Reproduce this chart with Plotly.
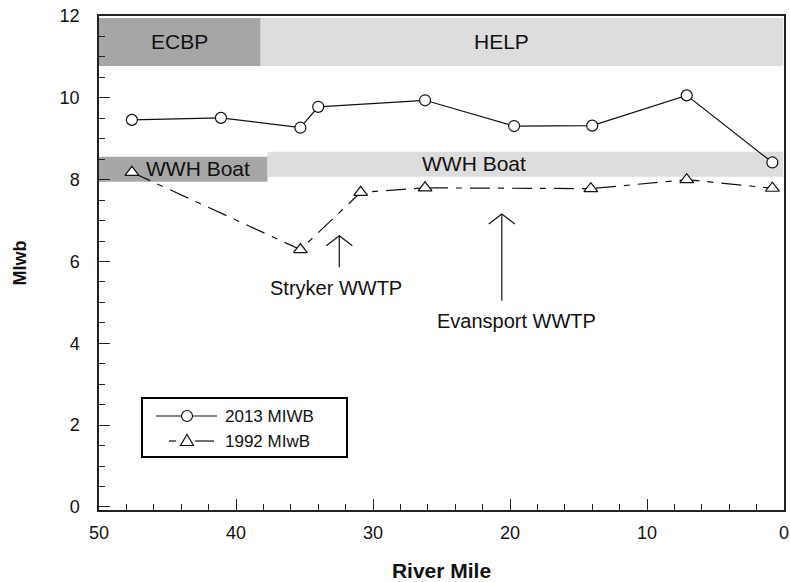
import plotly.graph_objects as go

# ---------------- data ----------------
river_mile_2013 = [47.6, 41.1, 35.3, 34.0, 26.2, 19.7, 14.0, 7.1, 0.85]
miwb_2013 = [9.46, 9.51, 9.27, 9.78, 9.94, 9.31, 9.32, 10.06, 8.42]

river_mile_1992 = [47.6, 35.3, 30.9, 26.2, 14.1, 7.1, 0.85]
miwb_1992 = [8.18, 6.29, 7.69, 7.80, 7.78, 8.00, 7.79]

series_names = ["2013 MIWB", "1992 MIwB"]

band_names = ["ECBP", "HELP", "WWH Boat", "WWH Boat"]
band_mile_from = [50, 38.2, 50, 37.7]
band_mile_to = [38.2, 0.05, 37.7, 0.05]
band_low = [10.78, 10.78, 7.95, 8.07]
band_high = [11.95, 11.95, 8.56, 8.68]
band_label_mile = [44.1, 20.6, 42.8, 22.6]
band_label_value = [11.37, 11.37, 8.27, 8.39]

outfall_names = ["Stryker WWTP", "Evansport WWTP"]
outfall_mile = [32.46, 20.6]
outfall_arrow_tail = [5.86, 5.04]
outfall_arrow_head = [6.63, 7.16]
outfall_label_mile = [32.7, 19.5]
outfall_label_value = [5.34, 4.55]

x_ticks = [50, 40, 30, 20, 10, 0]
y_ticks = [0, 2, 4, 6, 8, 10, 12]

# ---------------- styles / layout ----------------
FONT = "Liberation Sans"
INK = "#111111"
DARK_BAND = "#a6a6a6"
LIGHT_BAND = "#dcdddc"
band_colors = [DARK_BAND, LIGHT_BAND, DARK_BAND, LIGHT_BAND]

W, H = 790, 582
ML, MR, MT, MB = 99, 6, 16, 72


def px_x(px):
    return (px - ML) / (W - ML - MR)


def px_y(py):
    return (H - MB - py) / (H - MT - MB)


DASH_1992 = "20px,8px,6px,8px"
KEY_ROWS = [416, 441]

fig = go.Figure()

fig.add_trace(go.Scatter(
    x=river_mile_2013, y=miwb_2013, name=series_names[0], mode="lines+markers",
    line=dict(color=INK, width=1.2), showlegend=False,
    marker=dict(symbol="circle", size=11, color="white", line=dict(color=INK, width=1.2)),
))
fig.add_trace(go.Scatter(
    x=river_mile_1992, y=miwb_1992, name=series_names[1], mode="lines+markers",
    line=dict(color=INK, width=1.2, dash=DASH_1992), showlegend=False,
    marker=dict(symbol="triangle-up", size=12, color="white", line=dict(color=INK, width=1.2)),
))

shapes = []
annotations = []
for name, x0, x1, y0, y1, col, lx, ly in zip(band_names, band_mile_from, band_mile_to,
                                            band_low, band_high, band_colors,
                                            band_label_mile, band_label_value):
    shapes.append(dict(type="rect", xref="x", yref="y", x0=x0, x1=x1, y0=y0, y1=y1,
                       fillcolor=col, line=dict(width=0), layer="below"))
    annotations.append(dict(x=lx, y=ly, xref="x", yref="y", text=name, showarrow=False,
                            font=dict(family=FONT, size=21, color=INK)))

for name, mx, yt, yh, lx, ly in zip(outfall_names, outfall_mile, outfall_arrow_tail,
                                    outfall_arrow_head, outfall_label_mile, outfall_label_value):
    shapes.append(dict(type="line", xref="x", yref="y", x0=mx, x1=mx, y0=yt, y1=yh,
                       line=dict(color=INK, width=1.2)))
    shapes.append(dict(type="path", xref="x", yref="y", xsizemode="pixel", ysizemode="pixel",
                       xanchor=mx, yanchor=yh, path="M-13,-10 L0,0 L13,-10",
                       line=dict(color=INK, width=1.2)))
    annotations.append(dict(x=lx, y=ly, xref="x", yref="y", text=name, showarrow=False,
                            font=dict(family=FONT, size=20, color=INK)))

# ---------------- legend (drawn as a framed key) ----------------
shapes.append(dict(type="rect", xref="paper", yref="paper",
                   x0=px_x(142), x1=px_x(347), y0=px_y(457), y1=px_y(398),
                   line=dict(color="black", width=2), fillcolor="rgba(0,0,0,0)"))
# entry 1: solid line with open circle
shapes.append(dict(type="line", xref="paper", yref="paper",
                   x0=px_x(156), x1=px_x(217), y0=px_y(KEY_ROWS[0]), y1=px_y(KEY_ROWS[0]),
                   line=dict(color=INK, width=1.2)))
shapes.append(dict(type="circle", xref="paper", yref="paper", xsizemode="pixel",
                   ysizemode="pixel", xanchor=px_x(187), yanchor=px_y(KEY_ROWS[0]),
                   x0=-5.5, x1=5.5, y0=-5.5, y1=5.5, fillcolor="white",
                   line=dict(color=INK, width=1.2)))
# entry 2: dashed line with open triangle
shapes.append(dict(type="line", xref="paper", yref="paper",
                   x0=px_x(169), x1=px_x(176), y0=px_y(KEY_ROWS[1]), y1=px_y(KEY_ROWS[1]),
                   line=dict(color=INK, width=1.2)))
shapes.append(dict(type="line", xref="paper", yref="paper",
                   x0=px_x(195), x1=px_x(214), y0=px_y(KEY_ROWS[1]), y1=px_y(KEY_ROWS[1]),
                   line=dict(color=INK, width=1.2)))
shapes.append(dict(type="path", xref="paper", yref="paper", xsizemode="pixel",
                   ysizemode="pixel", xanchor=px_x(187), yanchor=px_y(KEY_ROWS[1]),
                   path="M-6.5,-4.5 L6.5,-4.5 L0,6.5 Z", fillcolor="white",
                   line=dict(color=INK, width=1.2)))
for name, py in zip(series_names, KEY_ROWS):
    annotations.append(dict(x=px_x(223), y=px_y(py), xref="paper", yref="paper",
                            xanchor="left", yanchor="middle", text=name, showarrow=False,
                            font=dict(family=FONT, size=17, color=INK)))

fig.update_layout(
    width=W, height=H,
    margin=dict(l=ML, r=MR, t=MT, b=MB),
    paper_bgcolor="white", plot_bgcolor="white",
    font=dict(family=FONT, size=18, color=INK),
    shapes=shapes, annotations=annotations,
    showlegend=False,
)
fig.update_xaxes(
    range=[50, 0], tickvals=x_ticks, ticktext=[str(v) for v in x_ticks],
    showgrid=False, zeroline=False, showline=True, linecolor="#222222", linewidth=1.5,
    mirror=True, ticks="inside", ticklen=11, tickwidth=1.2, tickcolor="#222222",
    minor=dict(dtick=2, tick0=0, ticks="inside", ticklen=6, tickwidth=1, tickcolor="#222222"),
    title=dict(text="<b>River Mile</b>", font=dict(family=FONT, size=21), standoff=21),
    tickfont=dict(family=FONT, size=18), ticklabelstandoff=6, automargin=False,
    ticklabeloverflow="allow",
)
fig.update_yaxes(
    range=[-0.075, 12], tickvals=y_ticks, ticktext=[str(v) for v in y_ticks],
    showgrid=False, zeroline=False, showline=True, linecolor="#222222", linewidth=1.5,
    mirror=True, ticks="inside", ticklen=11, tickwidth=1.2, tickcolor="#222222",
    minor=dict(dtick=0.5, tick0=0, ticks="inside", ticklen=6, tickwidth=1, tickcolor="#222222"),
    title=dict(text="<b>MIwb</b>", font=dict(family=FONT, size=18), standoff=28),
    tickfont=dict(family=FONT, size=18), ticklabelstandoff=14, automargin=False,
    ticklabeloverflow="allow",
)

fig.write_html("out.html")
